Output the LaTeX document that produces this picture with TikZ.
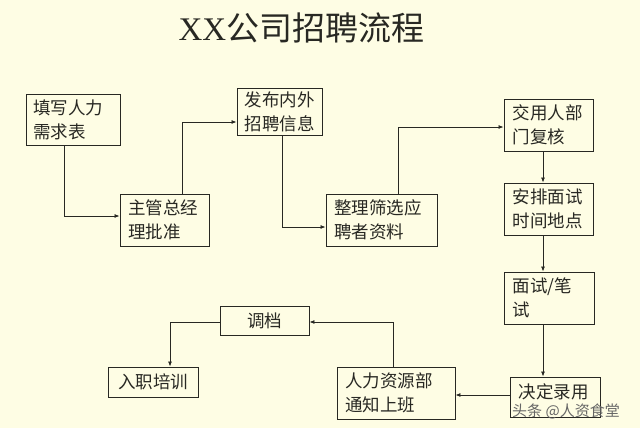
\documentclass[tikz,border=0pt]{standalone}
\usepackage{fontspec}
\setmainfont{Liberation Serif}
\newfontfamily\cjk{Noto Sans CJK SC}
\usetikzlibrary{arrows.meta}
\definecolor{bgyellow}{RGB}{254,253,228}
\definecolor{ink}{RGB}{40,40,35}
\begin{document}
\begin{tikzpicture}[x=1pt,y=-1pt,
  box/.style={draw=ink, line width=0.9pt, inner sep=0pt, align=left,
    font=\cjk\fontsize{17.5}{24}\selectfont, text=ink},
  cbox/.style={draw=ink, line width=0.9pt, inner sep=0pt, align=center,
    font=\cjk\fontsize{17.5}{24}\selectfont, text=ink},
  conn/.style={draw=ink, line width=0.8pt, -{Latex[length=5pt,width=4pt]}}]
\fill[bgyellow] (0,0) rectangle (640,428);
\useasboundingbox (0,0) rectangle (640,428);

\node[text=ink, font=\fontsize{33}{36}\selectfont] (title) at (301.5,28) {XX{\cjk 公司招聘流程}};

\node[box, minimum width=94pt, minimum height=51pt, text width=80pt] (fill) at (73,119.5) {填写人力\\需求表};
\node[box, minimum width=89pt, minimum height=52pt, text width=73pt] (zhuguan) at (164.5,220) {主管总经\\理批准};
\node[box, minimum width=85pt, minimum height=47pt, text width=70pt] (fabu) at (279.5,111.5) {发布内外\\招聘信息};
\node[box, minimum width=111pt, minimum height=52pt, text width=95pt] (zhengli) at (381.5,220) {整理筛选应\\聘者资料};
\node[box, minimum width=89pt, minimum height=52pt, text width=72pt] (jiaoyong) at (548.5,125) {交用人部\\门复核};
\node[box, minimum width=89pt, minimum height=52pt, text width=72pt] (anpai) at (548.5,209) {安排面试\\时间地点};
\node[box, minimum width=90pt, minimum height=52pt, text width=73pt] (mianshi) at (549,298) {面试/笔\\试};
\node[box, minimum width=90pt, minimum height=40pt, text width=73pt, text depth=12pt] (jueding) at (555,397) {决定录用};
\node[box, minimum width=118pt, minimum height=52pt, text width=102pt] (renli) at (396,393) {人力资源部\\通知上班};
\node[cbox, minimum width=89pt, minimum height=29pt] (diaodang) at (264.5,320.5) {调档};
\node[cbox, minimum width=90pt, minimum height=30pt] (ruzhi) at (153,382) {入职培训};

\draw[conn] ([xshift=-9pt]fill.south) |- ([yshift=4pt]zhuguan.west);
\draw[conn] ([xshift=17.5pt]zhuguan.north) |- ([yshift=-10.5pt]fabu.west);
\draw[conn] ([xshift=2.5pt]fabu.south) |- ([yshift=-7pt]zhengli.west);
\draw[conn] ([xshift=16.5pt]zhengli.north) |- ([yshift=-2pt]jiaoyong.west);
\draw[conn] ([xshift=-5.5pt]jiaoyong.south) -- ([xshift=-5.5pt]anpai.north);
\draw[conn] ([xshift=-5.5pt]anpai.south) -- ([xshift=-6pt]mianshi.north);
\draw[conn] ([xshift=-6pt]mianshi.south) -- ([xshift=-12pt]jueding.north);
\draw[conn] ([yshift=2pt]jueding.west) -- ([yshift=2pt]jueding.west -| renli.east);
\draw[conn] ([xshift=-3pt]renli.north) |- ([yshift=-1.5pt]diaodang.east);
\draw[conn] ([yshift=-1.5pt]diaodang.west) -| ([xshift=17pt]ruzhi.north);

\node[font=\cjk\fontsize{15}{18}\selectfont, text=black!60] (mark) at (566,411) {头条 @人资食堂};
\end{tikzpicture}
\end{document}
